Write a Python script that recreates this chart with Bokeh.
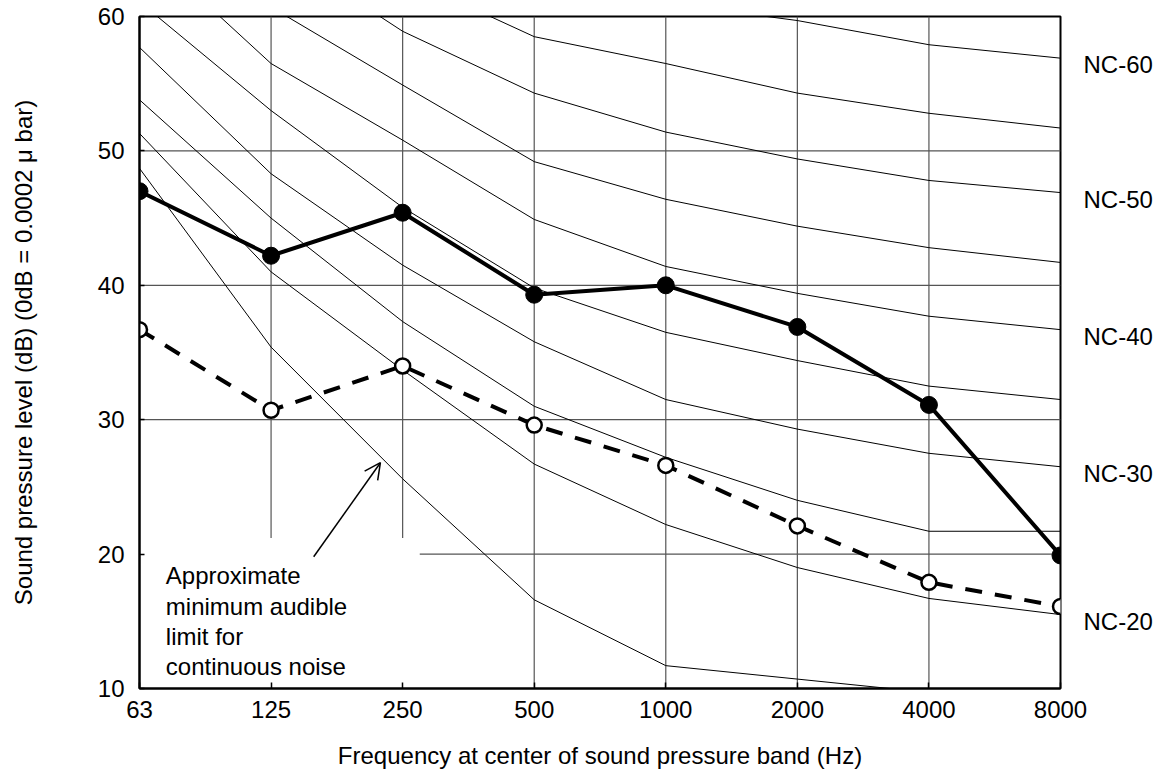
from bokeh.plotting import figure
from bokeh.models import Range1d, FixedTicker, LinearAxis, Arrow, OpenHead
from bokeh.embed import file_html
from bokeh.resources import INLINE
from bokeh.core.properties import value

# ---------------- data ----------------
freq_labels = ["63", "125", "250", "500", "1000", "2000", "4000", "8000"]
measured = [47.0, 42.2, 45.4, 39.3, 40.0, 36.9, 31.1, 19.9]
reference = [36.7, 30.7, 34.0, 29.6, 26.6, 22.1, 17.9, 16.1]

nc_names = ["NC-20", "NC-25", "NC-30", "NC-35", "NC-40", "NC-45", "NC-50", "NC-55", "NC-60"]
nc_20 = [51.3, 41.0, 33.7, 26.7, 22.2, 19.0, 16.7, 15.5]
nc_25 = [53.8, 45.0, 37.3, 31.0, 27.2, 24.0, 21.7, 21.7]
nc_30 = [57.7, 48.3, 41.5, 35.8, 31.5, 29.3, 27.5, 26.5]
nc_35 = [61.1, 53.0, 45.8, 39.8, 36.5, 34.4, 32.5, 31.5]
nc_40 = [65.5, 56.5, 50.8, 44.9, 41.4, 39.4, 37.7, 36.7]
nc_45 = [68.5, 60.7, 54.9, 49.2, 46.4, 44.4, 42.8, 41.7]
nc_50 = [72.0, 65.3, 58.9, 54.3, 51.4, 49.4, 47.8, 46.9]
nc_55 = [75.0, 68.0, 63.0, 58.5, 56.5, 54.3, 52.8, 51.7]
nc_60 = [78.0, 72.0, 67.5, 63.5, 61.0, 59.7, 57.9, 56.9]
nc_curves = [nc_20, nc_25, nc_30, nc_35, nc_40, nc_45, nc_50, nc_55, nc_60]
nc_labelled = ["NC-20", "NC-30", "NC-40", "NC-50", "NC-60"]

threshold = [48.7, 35.4, 25.6, 16.6, 11.7, 10.7, 9.7]   # approx. minimum audible limit

y_ticks = [10, 20, 30, 40, 50, 60]
annotation_text = "Approximate\nminimum audible\nlimit for\ncontinuous noise"

# ---------------- figure ----------------
FONT = "Liberation Sans"
xs = list(range(len(freq_labels)))

p = figure(width=1164, height=780, output_backend="svg", toolbar_location=None,
           x_range=Range1d(0, len(freq_labels) - 1), y_range=Range1d(10, 60),
           min_border_left=139, min_border_right=104, min_border_top=16, min_border_bottom=92)
p.background_fill_color = "white"
p.border_fill_color = "white"
p.outline_line_color = "black"
p.outline_line_width = 2
p.xgrid.grid_line_color = None
p.ygrid.grid_line_color = None

# grid lines (drawn manually, some are interrupted around the annotation)
GRID = "#555555"
vx0, vy0, vx1, vy1 = [], [], [], []
for i in xs[1:-1]:
    vx0.append(i); vx1.append(i)
    vy0.append(21.2 if i in (1, 2) else 10); vy1.append(60)
p.segment(vx0, vy0, vx1, vy1, line_color=GRID, line_width=1.2)
hx0, hy = [], []
for t in y_ticks[1:-1]:
    hx0.append(2.13 if t == 20 else 0); hy.append(t)
p.segment(hx0, hy, [xs[-1]] * len(hy), hy, line_color=GRID, line_width=1.2)

# NC curves
for curve in nc_curves:
    p.line(xs, curve, line_color="black", line_width=1)
p.line(xs[:len(threshold)], threshold, line_color="black", line_width=1)

# data series
p.line(xs, reference, line_color="black", line_width=4, line_dash="17 13")
p.line(xs, measured, line_color="black", line_width=4)
p.scatter(xs, measured, size=17, fill_color="black", line_color="black")
p.scatter(xs, reference, size=15, fill_color="white", line_color="black", line_width=2.5)

# annotation
p.text([0.2], [15.0], text=[annotation_text], text_font=value(FONT),
       text_font_size="24px", text_align="left", text_baseline="middle",
       text_line_height=1.12, text_color="black")
p.add_layout(Arrow(x_start=1.324, y_start=19.8, x_end=1.831, y_end=26.8,
                   line_color="black", line_width=1.5,
                   end=OpenHead(size=16, line_color="black", line_width=1.5)))

# axes
xa = p.xaxis[0]
xa.ticker = FixedTicker(ticks=xs)
xa.major_label_overrides = {i: s for i, s in zip(xs, freq_labels)}
xa.axis_label = "Frequency at center of sound pressure band (Hz)"
ya = p.yaxis[0]
ya.ticker = FixedTicker(ticks=y_ticks)
ya.axis_label = "Sound pressure level (dB) (0dB = 0.0002 \u03bc bar)"
for ax in (xa, ya):
    ax.major_label_text_font = FONT
    ax.major_label_text_font_size = "24px"
    ax.major_label_text_color = "black"
    ax.axis_label_text_font = FONT
    ax.axis_label_text_font_size = "24px"
    ax.axis_label_text_font_style = "normal"
    ax.axis_label_text_color = "black"
    ax.axis_line_color = "black"
    ax.axis_line_width = 2
    ax.major_tick_line_color = "black"
    ax.major_tick_line_width = 1.5
    ax.major_tick_out = 0
    ax.minor_tick_line_color = None
xa.major_tick_in = 6
ya.major_tick_in = 5
xa.major_label_standoff = 12
xa.axis_label_standoff = 21
ya.major_label_standoff = 15
ya.axis_label_standoff = 58

# NC labels on the right side
label_ticks = []
overrides = {}
for name in nc_labelled:
    yv = round(nc_curves[nc_names.index(name)][-1] - 0.5, 2)
    label_ticks.append(yv)
    overrides[yv] = name
ra = LinearAxis(ticker=FixedTicker(ticks=label_ticks), major_label_overrides=overrides)
ra.axis_line_color = None
ra.major_tick_line_color = None
ra.minor_tick_line_color = None
ra.major_label_text_font = FONT
ra.major_label_text_font_size = "24px"
ra.major_label_text_color = "black"
ra.major_label_standoff = 17
p.add_layout(ra, "right")

open("out.html", "w").write(file_html(p, INLINE))
